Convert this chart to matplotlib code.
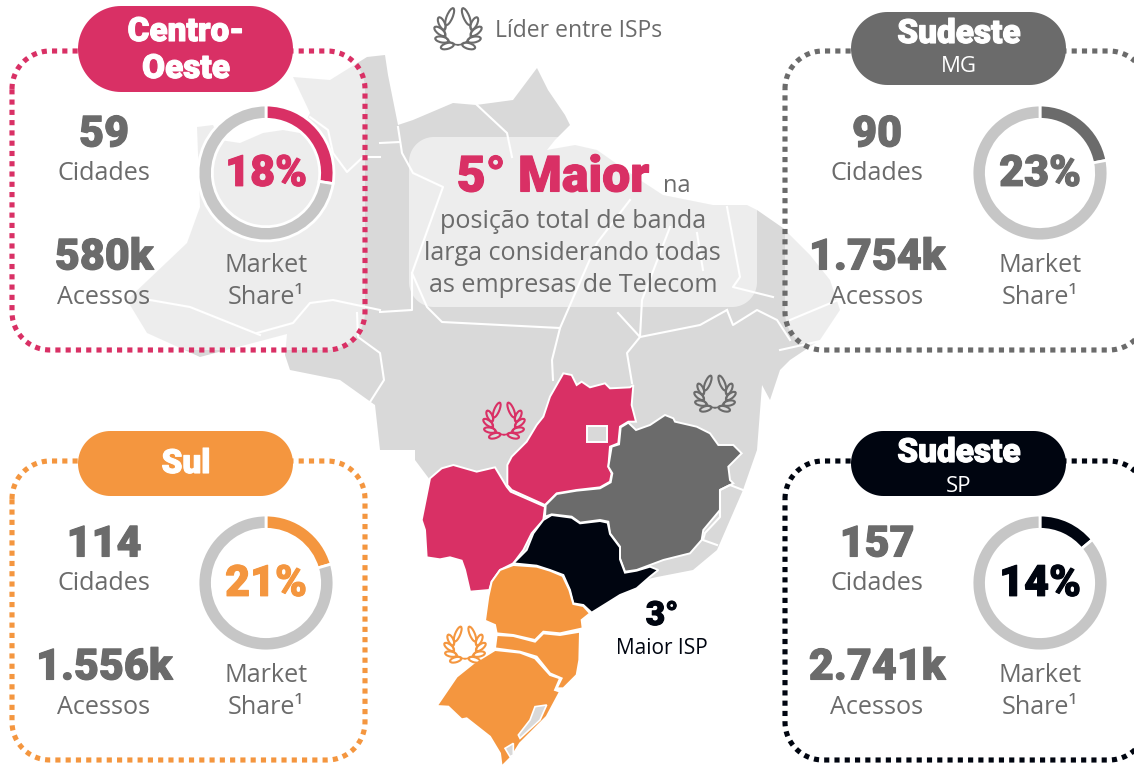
import numpy as np
import matplotlib
matplotlib.use("Agg")
import matplotlib.pyplot as plt
from matplotlib.patches import Polygon, Ellipse, Rectangle
import matplotlib.patheffects as pe

PINK = "#D93065"
GRAY = "#6B6B6B"
ORANGE = "#F4963F"
BLACK = "#000510"
MAP = "#D9D9D9"
RING = "#C6C6C6"
BODY = "Open Sans"
HEAVY = "Roboto"

# panel data
regions = ["Centro-\nOeste", "Sudeste", "Sul", "Sudeste"]
subs = ["", "MG", "", "SP"]
colors = [PINK, GRAY, ORANGE, BLACK]
cidades = ["59", "90", "114", "157"]
acessos = ["580k", "1.754k", "1.556k", "2.741k"]
share_labels = ["18%", "23%", "21%", "14%"]
# how far the rings are really filled in the picture, the first one runs past its label
share_arcs = [27.5, 22, 20.5, 14]

# outlines, in pixels
brazil = [(197,127),(213,125),(220,140),(240,143),(263,133),(283,130),(300,133),(310,113),(293,77),(330,80),
    (367,57),(385,55),(388,75),(398,125),(413,120),(453,103),(476,105),(513,100),(537,68),(548,90),(565,115),
    (570,125),(555,140),(547,150),(575,145),(597,150),(640,180),(663,195),(713,205),(747,205),(757,210),
    (783,228),(810,255),(830,280),(840,310),(820,340),(790,360),(780,370),(770,400),(762,385),(757,450),
    (743,490),(717,550),(693,570),(657,577),(600,590),(540,590),(470,560),(430,480),(415,460),(415,450),
    (380,450),(375,405),(340,380),(290,370),(285,355),(287,334),(200,357),(147,333),(127,300),(187,243),(200,207)]
state_lines = [
    [(398,127),(402,153),(413,173),(443,187),(412,273),(427,307),(442,322),(560,328),(552,360),(553,380)],
    [(380,143),(400,142)],
    [(310,117),(328,130),(333,153),(347,172),(363,157),(380,157)],
    [(380,312),(412,310),(412,273)],
    [(380,310),(333,300),(310,303),(293,323),(257,333)],
    [(150,300),(190,307),(260,335)],
    [(357,313),(358,337),(380,353),(384,380),(370,402)],
    [(477,105),(507,133),(512,157)],
    [(560,328),(597,243),(630,200)],
    [(618,313),(640,337),(642,300),(670,227)],
    [(727,207),(740,277),(733,287),(773,297)],
    [(727,310),(733,325),(757,310),(777,320),(790,340)],
    [(640,337),(627,353),(632,383)],
    [(697,233),(703,270)],
    [(640,337),(700,325),(727,310)],
    [(790,320),(838,300)],
    [(780,350),(825,340)],
    [(743,490),(730,485),(720,490),(720,517),(705,533),(703,540),(717,545)],
]
goias = [(550,70),(575,75),(590,105),(605,95),(630,112),(675,100),(690,115),(750,112),(760,105),(755,165),
    (768,215),(745,215),(720,230),(715,280),(690,290),(685,350),(695,370),(690,395),(660,412),(590,420),
    (530,430),(495,465),(395,420),(382,405),(382,345),(395,320),(440,275),(470,225),(490,200),(510,140)]
mato_grosso_sul = [(150,385),(185,355),(220,345),(290,365),(345,352),(380,410),(392,425),(495,470),(490,510),
    (455,550),(430,600),(400,640),(360,660),(335,695),(328,720),(270,725),(255,660),(245,632),(210,622),
    (180,628),(140,622),(135,540),(125,510)]
minas = [(855,195),(880,205),(885,215),(950,230),(990,250),(1015,285),(1060,285),(1085,310),(1045,350),
    (1050,390),(1060,400),(1020,420),(1020,480),(970,540),(965,570),(930,610),(850,630),(770,660),(735,665),
    (720,625),(720,590),(690,550),(685,515),(660,510),(600,518),(575,500),(515,493),(495,500),(497,465),
    (530,432),(590,422),(660,415),(692,397),(697,370),(685,350),(695,290),(717,283),(722,232),(745,218),
    (768,240),(810,225)]
sao_paulo = [(515,495),(575,503),(600,520),(660,513),(683,518),(690,552),(720,592),(720,628),(735,668),
    (770,662),(810,650),(835,660),(810,680),(770,715),(720,735),(680,760),(635,788),(610,765),(580,760),
    (570,720),(550,675),(510,660),(470,647),(400,640),(440,600),(460,550),(490,510)]
parana = [(400,645),(470,650),(510,662),(548,678),(568,720),(580,762),(610,768),(630,790),(605,810),(608,835),
    (540,850),(490,845),(465,870),(400,855),(350,850),(345,825),(315,812),(325,740),(335,695),(360,660)]
santa_catarina = [(350,855),(400,858),(465,875),(490,850),(540,855),(600,845),(598,930),(590,975),(550,1015),
    (530,1015),(545,985),(510,970),(470,920),(420,905),(345,895)]
rio_grande = [(345,900),(420,908),(465,925),(510,975),(540,985),(525,1020),(540,1025),(500,1100),(420,1180),
    (395,1220),(365,1250),(360,1210),(330,1160),(260,1105),(245,1108),(205,1070),(170,1068),(230,980),(280,940)]
lagoa_1 = [(465,1070),(500,1065),(480,1110),(420,1165),(415,1155),(450,1110)]
lagoa_2 = [(375,1195),(400,1180),(400,1215),(390,1220)]


def crop(pts):
    # the southern states were traced on a 3x crop starting at (380, 350)
    return [(380 + x / 3, 350 + y / 3) for x, y in pts]


def round_rect(x0, y0, w, h, r):
    pts = []
    corners = [(x0 + r, y0 + r, 180), (x0 + w - r, y0 + r, 270), (x0 + w - r, y0 + h - r, 0), (x0 + r, y0 + h - r, 90)]
    for cx, cy, start in corners:
        t = np.radians(np.linspace(start, start + 90, 24))
        pts += list(zip(cx + r * np.cos(t), cy + r * np.sin(t)))
    return pts


def laurel(ax, cx, cy, size, color):
    R = size * 0.28
    cy = cy + size * 0.07
    for side in (-1, 1):
        t = np.radians(np.linspace(0, 118, 30))
        ax.plot(cx + side * R * np.sin(t), cy + R * np.cos(t), color=color, lw=1.2, zorder=6)
        for deg in [18, 45, 72, 98, 118]:
            a = np.radians(deg)
            px = cx + side * R * np.sin(a)
            py = cy + R * np.cos(a)
            tx, ty = side * np.cos(a), -np.sin(a)
            nx, ny = side * np.sin(a), np.cos(a)
            tilt = np.radians(34 if deg < 118 else 5)
            dx = np.cos(tilt) * tx + np.sin(tilt) * nx
            dy = np.cos(tilt) * ty + np.sin(tilt) * ny
            length = size * (0.28 if deg < 118 else 0.38)
            ax.add_patch(Ellipse((px + dx * length / 2, py + dy * length / 2), length, size * 0.12,
                                 angle=np.degrees(np.arctan2(dy, dx)), fc="none", ec=color, lw=1.5, zorder=6))


def heavy(x, y, s, color, size):
    t = ax.text(x, y, s, color=color, fontsize=size, family=HEAVY, weight="black", ha="center", va="center", zorder=8)
    t.set_path_effects([pe.withStroke(linewidth=0.8, foreground=color)])


def body(x, y, s, color=GRAY, size=18.1, ha="center"):
    ax.text(x, y, s, color=color, fontsize=size, family=BODY, ha=ha, va="center", zorder=8)


fig = plt.figure(figsize=(11.34, 7.68), dpi=100)
ax = fig.add_axes([0, 0, 1, 1])
ax.set_xlim(0, 1134)
ax.set_ylim(768, 0)
ax.axis("off")

ax.add_patch(Polygon(brazil, fc=MAP, ec="none", zorder=1))
for line in state_lines[:-1]:
    xs, ys = zip(*line)
    ax.plot(xs, ys, color="white", lw=1.5, zorder=2)

for pts, c in [(goias, PINK), (mato_grosso_sul, PINK), (minas, GRAY), (sao_paulo, BLACK),
               (parana, ORANGE), (santa_catarina, ORANGE), (rio_grande, ORANGE)]:
    ax.add_patch(Polygon(crop(pts), fc=c, ec="white", lw=1.4, zorder=3))
for pts in (lagoa_1, lagoa_2):
    ax.add_patch(Polygon(crop(pts), fc=MAP, ec="white", lw=1.2, zorder=4))
xs, ys = zip(*state_lines[-1])
ax.plot(xs, ys, color="white", lw=1.5, zorder=4)
ax.add_patch(Rectangle((587, 426), 20, 16, fc=MAP, ec="white", lw=1.4, zorder=4))

# panels
left = [12, 785, 12, 785]
top = [51, 51, 461, 461]
for i in range(4):
    x0 = left[i]
    y0 = top[i]
    w = 353 if x0 == 12 else 362
    outline = round_rect(x0, y0, w, 299, 38)
    ax.add_patch(Polygon(outline, fc=(1, 1, 1, 0.55), ec="none", zorder=5))
    box = Polygon(outline, fc="none", ec=colors[i], lw=3.7, linestyle=(0, (1, 1)), zorder=6)
    box.set_capstyle("butt")
    ax.add_patch(box)

    # pill
    px = 78 if x0 == 12 else 851
    if i == 0:
        py, ph = 6, 86
    elif i == 1:
        py, ph = 12, 73
    else:
        py, ph = 431, 65
    ax.add_patch(Polygon(round_rect(px, py, 215, ph, ph / 2), fc=colors[i], ec="none", zorder=7))
    cx = px + 108
    if i == 0:
        heavy(cx, 32, "Centro-", "white", 24)
        heavy(cx, 69, "Oeste", "white", 24)
    elif i == 2:
        heavy(cx, 464, regions[i], "white", 24)
    else:
        heavy(cx, py + 22, regions[i], "white", 24)
        body(cx, py + 55, subs[i], "white", 16)

    # numbers on the left
    tx = 104 if x0 == 12 else 877
    heavy(tx, y0 + 84, cidades[i], GRAY, 31)
    body(tx, y0 + 123, "Cidades")
    heavy(tx, y0 + 207, acessos[i], GRAY, 31)
    body(tx, y0 + 246, "Acessos")

    # donut
    dx = 266 if x0 == 12 else 1040
    dy = y0 + 122
    size = 140
    inset = fig.add_axes([(dx - size / 2) / 1134, 1 - (dy + size / 2) / 768, size / 1134, size / 768], zorder=7)
    inset.pie([share_arcs[i], 100 - share_arcs[i]], colors=[colors[i], RING], startangle=90, counterclock=False,
              radius=1.0, wedgeprops=dict(width=0.21, edgecolor="white", linewidth=2))
    inset.set_xlim(-1.03, 1.03)
    inset.set_ylim(-1.03, 1.03)
    inset.patch.set_alpha(0)
    tt = inset.text(0, -0.02, share_labels[i], color=colors[i], fontsize=31, family=HEAVY, weight="black", ha="center", va="center")
    tt.set_path_effects([pe.withStroke(linewidth=0.8, foreground=colors[i])])
    body(dx, y0 + 215, "Market")
    body(dx, y0 + 246, "Share\u00b9")

# centre card
ax.add_patch(Polygon(round_rect(409, 137, 348, 170, 25), fc=(1, 1, 1, 0.55), ec="none", zorder=5))
heavy(553, 178, "5\u00b0 Maior", PINK, 36)
body(677, 186, "na", size=17)
body(573, 221, "posi\u00e7\u00e3o total de banda")
body(572, 253, "larga considerando todas")
body(573, 285, "as empresas de Telecom")

# legend and callouts
laurel(ax, 458, 28, 48, GRAY)
body(495, 31, "L\u00edder entre ISPs", size=16.5, ha="left")
laurel(ax, 504, 420, 42, PINK)
laurel(ax, 715, 393, 42, GRAY)
laurel(ax, 465, 644, 42, ORANGE)
heavy(662, 616, "3\u00b0", BLACK, 24)
body(662, 648, "Maior ISP", BLACK, 15)

fig.savefig("out.png", dpi=100)
